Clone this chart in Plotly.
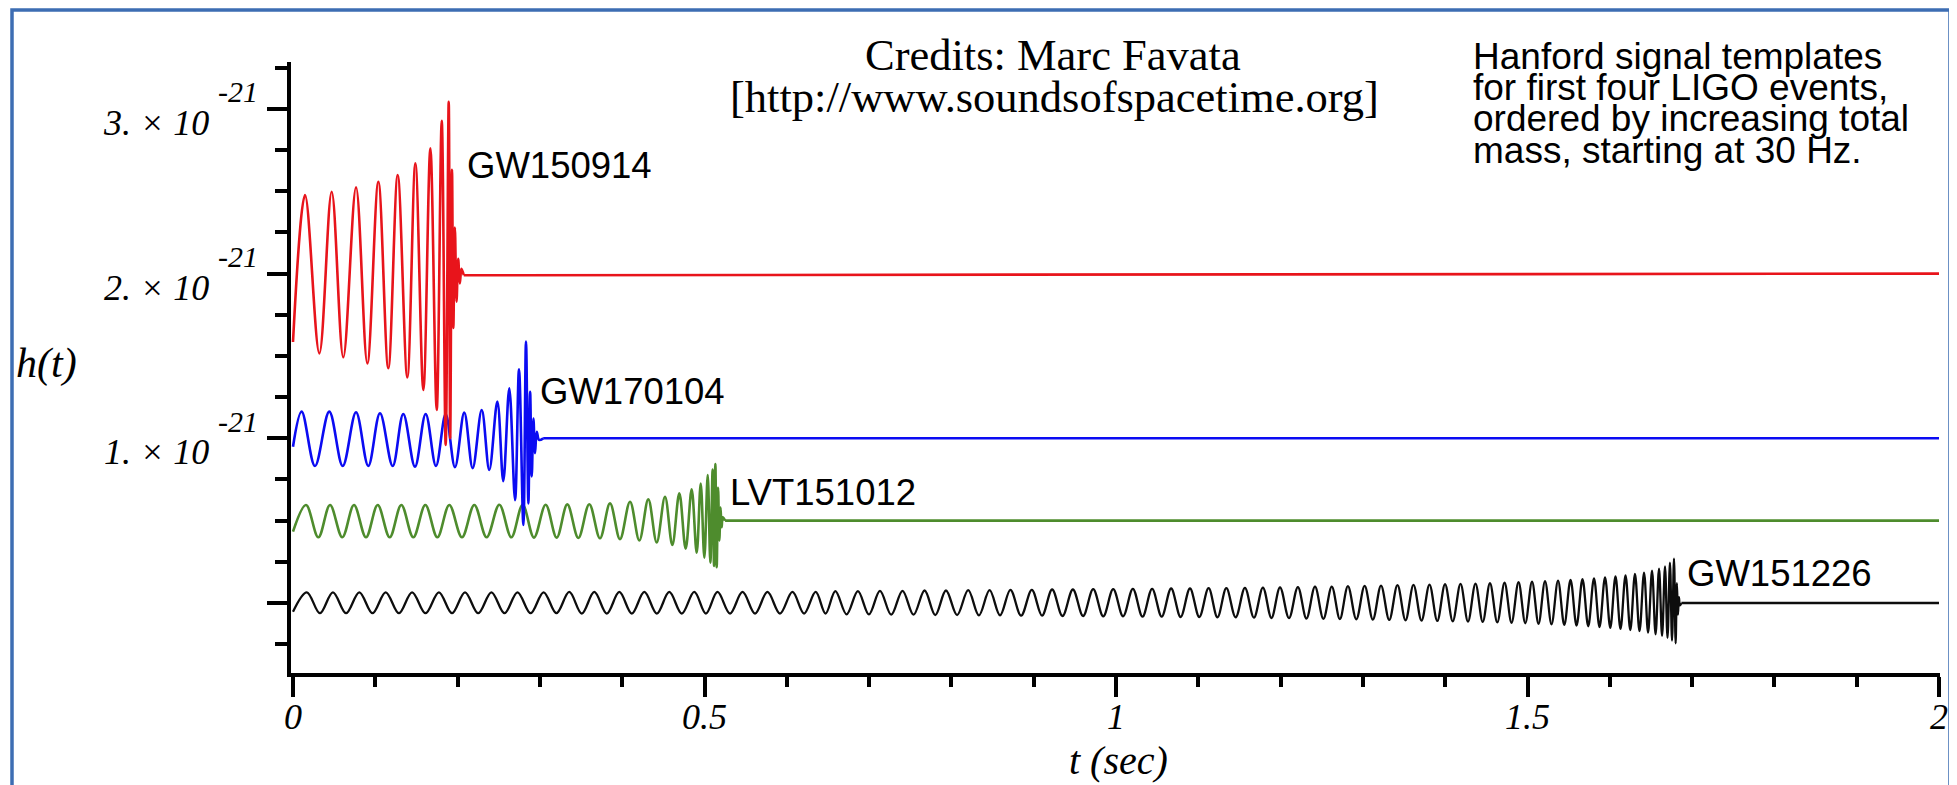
import plotly.graph_objects as go

# ---------------- data ----------------
event_names = ["GW150914", "GW170104", "LVT151012", "GW151226"]
event_offsets = [2.0, 1.0, 0.5, 0.0]            # baseline of each template (units of 1e-21)
event_colors = ["#e8141b", "#0b0bf2", "#4e8c2d", "#0d0d0d"]
event_widths = [2.6, 2.6, 2.6, 2.3]

# GW150914 (red): successive extrema, t [s], h [1e-21] relative to its baseline
gw150914_t = [0.0, 0.0146, 0.0320, 0.0470, 0.0611, 0.0766, 0.0903, 0.1037, 0.1158, 0.1272,
              0.1389, 0.1487, 0.1584, 0.1669, 0.1746, 0.1807, 0.1855, 0.1892, 0.1910, 0.1932,
              0.1948, 0.1967, 0.1987, 0.2007, 0.2027, 0.2047, 0.2075, 2.0]
gw150914_h = [-0.415, 0.477, -0.484, 0.497, -0.508, 0.524, -0.545, 0.558, -0.575, 0.599,
              -0.630, 0.670, -0.707, 0.761, -0.828, 0.928, -1.040, 1.044, -1.000, 0.630,
              -0.330, 0.280, -0.170, 0.090, -0.060, 0.030, -0.010, 0.0]

# GW170104 (blue)
gw170104_t = [0.0, 0.0105, 0.0267, 0.0441, 0.0604, 0.0766, 0.0915, 0.1057, 0.1211, 0.1340,
              0.1482, 0.1612, 0.1737, 0.1855, 0.1968, 0.2081, 0.2183, 0.2293, 0.2385, 0.2483,
              0.2555, 0.2628, 0.2698, 0.2746, 0.2799, 0.2831, 0.2860, 0.2881, 0.2901, 0.2921,
              0.2941, 0.2962, 0.2990, 0.3040, 2.0]
gw170104_h = [-0.051, 0.162, -0.168, 0.162, -0.168, 0.158, -0.168, 0.152, -0.168, 0.148,
              -0.172, 0.148, -0.168, 0.148, -0.175, 0.156, -0.181, 0.172, -0.192, 0.223,
              -0.260, 0.304, -0.375, 0.419, -0.526, 0.587, -0.395, 0.283, -0.231, 0.120,
              -0.090, 0.040, -0.010, 0.0, 0.0]

# LVT151012 (green)
lvt151012_t = [0.0, 0.0158, 0.0308, 0.0450, 0.0599, 0.0741, 0.0887, 0.1029, 0.1175, 0.1316,
               0.1462, 0.1608, 0.1754, 0.1899, 0.2053, 0.2203, 0.2353, 0.2507, 0.2653, 0.2791,
               0.2928, 0.3070, 0.3204, 0.3333, 0.3467, 0.3600, 0.3730, 0.3852, 0.3973, 0.4095,
               0.4208, 0.4317, 0.4419, 0.4520, 0.4609, 0.4694, 0.4771, 0.4844, 0.4905, 0.4954,
               0.4998, 0.5039, 0.5071, 0.5099, 0.5116, 0.5132, 0.5148, 0.5165, 0.5180, 0.5195,
               0.5208, 0.5222, 0.5250, 2.0]
lvt151012_h = [-0.067, 0.095, -0.101, 0.095, -0.101, 0.095, -0.101, 0.095, -0.101, 0.095,
               -0.101, 0.095, -0.101, 0.095, -0.101, 0.095, -0.101, 0.097, -0.101, 0.097,
               -0.103, 0.097, -0.103, 0.099, -0.105, 0.100, -0.107, 0.105, -0.112, 0.115,
               -0.120, 0.129, -0.132, 0.145, -0.148, 0.166, -0.170, 0.190, -0.195, 0.226,
               -0.225, 0.277, -0.255, 0.310, -0.275, 0.344, -0.283, 0.200, -0.120, 0.080,
               -0.040, 0.020, 0.0, 0.0]

# GW151226 (black): start, crests, troughs and ringdown
gw151226_start_t = [0.0]
gw151226_start_h = [-0.053]
gw151226_crest_t = [0.0168, 0.0485, 0.0806, 0.1126, 0.1447, 0.1773, 0.2090, 0.2411, 0.2728, 0.3045,
                    0.3357, 0.3661, 0.3965, 0.4269, 0.4572, 0.4876, 0.5158, 0.5462, 0.5765, 0.6069,
                    0.6351, 0.6590, 0.6864, 0.7132, 0.7406, 0.7674, 0.7934, 0.8204, 0.8464, 0.8717,
                    0.8977, 0.9224, 0.9476, 0.9723, 0.9966, 1.0205, 1.0439, 1.0670, 1.0899, 1.1125,
                    1.1341, 1.1567, 1.1785, 1.1993, 1.2210, 1.2418, 1.2622, 1.2818, 1.3021, 1.3220,
                    1.3420, 1.3615, 1.3809, 1.3998, 1.4186, 1.4368, 1.4544, 1.4721, 1.4891, 1.5055,
                    1.5213, 1.5371, 1.5523, 1.5668, 1.5808, 1.5942, 1.6069, 1.6191, 1.6306, 1.6416,
                    1.6513, 1.6598, 1.6671, 1.6731, 1.6780]
gw151226_crest_h = [0.065, 0.065, 0.065, 0.065, 0.065, 0.065, 0.065, 0.065, 0.065, 0.065,
                    0.067, 0.067, 0.067, 0.067, 0.067, 0.067, 0.067, 0.067, 0.067, 0.067,
                    0.067, 0.072, 0.072, 0.074, 0.074, 0.076, 0.076, 0.078, 0.078, 0.080,
                    0.080, 0.082, 0.082, 0.084, 0.084, 0.086, 0.086, 0.088, 0.088, 0.090,
                    0.090, 0.092, 0.094, 0.095, 0.097, 0.099, 0.100, 0.102, 0.104, 0.106,
                    0.108, 0.110, 0.112, 0.114, 0.116, 0.118, 0.120, 0.123, 0.126, 0.129,
                    0.132, 0.136, 0.140, 0.145, 0.150, 0.155, 0.161, 0.168, 0.176, 0.185,
                    0.196, 0.208, 0.222, 0.245, 0.270]
gw151226_trough_t = [0.0327, 0.0645, 0.0966, 0.1287, 0.1610, 0.1932, 0.2250, 0.2570, 0.2887, 0.3201,
                     0.3509, 0.3813, 0.4117, 0.4421, 0.4724, 0.5017, 0.5310, 0.5614, 0.5917, 0.6210,
                     0.6471, 0.6727, 0.6998, 0.7269, 0.7540, 0.7804, 0.8069, 0.8334, 0.8591, 0.8847,
                     0.9101, 0.9350, 0.9600, 0.9845, 1.0086, 1.0322, 1.0555, 1.0785, 1.1012, 1.1233,
                     1.1454, 1.1676, 1.1889, 1.2102, 1.2314, 1.2520, 1.2720, 1.2920, 1.3121, 1.3320,
                     1.3518, 1.3712, 1.3904, 1.4092, 1.4277, 1.4456, 1.4633, 1.4806, 1.4973, 1.5134,
                     1.5292, 1.5447, 1.5596, 1.5738, 1.5875, 1.6006, 1.6130, 1.6249, 1.6361, 1.6465,
                     1.6556, 1.6635, 1.6701, 1.6756, 1.6800]
gw151226_trough_h = [-0.062, -0.062, -0.062, -0.062, -0.062, -0.062, -0.062, -0.062, -0.062, -0.062,
                     -0.064, -0.064, -0.064, -0.064, -0.064, -0.064, -0.064, -0.064, -0.064, -0.064,
                     -0.064, -0.069, -0.069, -0.071, -0.071, -0.073, -0.073, -0.075, -0.075, -0.077,
                     -0.077, -0.079, -0.079, -0.081, -0.081, -0.083, -0.083, -0.085, -0.085, -0.087,
                     -0.087, -0.089, -0.091, -0.092, -0.094, -0.096, -0.097, -0.099, -0.101, -0.103,
                     -0.105, -0.107, -0.109, -0.111, -0.113, -0.115, -0.117, -0.120, -0.123, -0.126,
                     -0.129, -0.133, -0.137, -0.141, -0.146, -0.151, -0.157, -0.164, -0.171, -0.180,
                     -0.190, -0.200, -0.212, -0.228, -0.245]
gw151226_ring_t = [1.6815, 1.6828, 1.6840, 1.6852, 1.6870, 2.0]
gw151226_ring_h = [0.120, -0.070, 0.035, -0.015, 0.0, 0.0]

x_tick_vals = [0, 0.5, 1, 1.5, 2]
x_tick_text = ["0", "0.5", "1", "1.5", "2"]
y_tick_vals = [1, 2, 3]
y_tick_text = ["1. × 10", "2. × 10", "3. × 10"]
y_tick_exponent = "-21"

credits_lines = ["Credits: Marc Favata", "[http://www.soundsofspacetime.org]"]
note_lines = ["Hanford signal templates", "for first four LIGO events,",
              "ordered by increasing total", "mass, starting at 30 Hz."]

# ---------------- assemble series ----------------
bt, bh = list(gw151226_start_t), list(gw151226_start_h)
for ct, ch, tt, th in zip(gw151226_crest_t, gw151226_crest_h, gw151226_trough_t, gw151226_trough_h):
    bt += [ct, tt]
    bh += [ch, th]
bt += gw151226_ring_t
bh += gw151226_ring_h

series_t = [gw150914_t, gw170104_t, lvt151012_t, bt]
series_h = [gw150914_h, gw170104_h, lvt151012_h, bh]

# ---------------- layout geometry (screen pixels; page body has an 8px margin) ----------------
W, H = 1957, 785
BODY = 8
ML, MT = 291 - BODY, 62 - BODY
PW, PH = 1649, 611
MR = W - ML - PW
MB = H - MT - PH


def px(x):
    return (x - BODY - ML) / PW


def py(y):
    return (MT + PH - (y - BODY)) / PH


SERIF = "Liberation Serif, Times New Roman, serif"
SANS = "Liberation Sans, Arial, Helvetica, sans-serif"

fig = go.Figure()
# draw black first, red last (red on top)
for i in [3, 2, 1, 0]:
    off = event_offsets[i]
    t, h = series_t[i], series_h[i]
    yv = [v + off for v in h]
    # oscillating part (smooth)
    fig.add_trace(go.Scatter(
        x=t[:-1], y=yv[:-1], mode="lines",
        line=dict(color=event_colors[i], width=event_widths[i], shape="spline", smoothing=1.0),
        hoverinfo="skip", showlegend=False))
    # flat tail after the ringdown
    fig.add_trace(go.Scatter(
        x=t[-2:], y=yv[-2:], mode="lines",
        line=dict(color=event_colors[i], width=event_widths[i]),
        hoverinfo="skip", showlegend=False))

annotations = []
# y tick labels with exponent
for v, txt in zip(y_tick_vals, y_tick_text):
    annotations.append(dict(xref="paper", yref="y", x=px(211), y=v, yshift=-14,
                            text=f"<i>{txt}</i>", showarrow=False, xanchor="right", yanchor="middle",
                            font=dict(family=SERIF, size=36, color="black")))
    annotations.append(dict(xref="paper", yref="y", x=px(216), y=v, yshift=17,
                            text=f"<i>{y_tick_exponent}</i>", showarrow=False, xanchor="left",
                            yanchor="middle", font=dict(family=SERIF, size=30, color="black")))
# axis titles
annotations.append(dict(xref="paper", yref="paper", x=px(46), y=py(364), text="<i>h(t)</i>",
                        showarrow=False, xanchor="center", yanchor="middle",
                        font=dict(family=SERIF, size=42, color="black")))
annotations.append(dict(xref="paper", yref="paper", x=px(1118), y=py(760), text="<i>t (sec)</i>",
                        showarrow=False, xanchor="center", yanchor="middle",
                        font=dict(family=SERIF, size=40, color="black")))
# event labels
label_pos = [(465, 165), (538, 391), (728, 493), (1685, 573)]
for name, (lx, ly) in zip(event_names, label_pos):
    annotations.append(dict(xref="paper", yref="paper", x=px(lx), y=py(ly), text=name,
                            showarrow=False, xanchor="left", yanchor="middle",
                            font=dict(family=SANS, size=36.5, color="black")))
# credits
for line, (cx, cy) in zip(credits_lines, [(1053, 55), (1054, 97)]):
    annotations.append(dict(xref="paper", yref="paper", x=px(cx), y=py(cy), text=line,
                            showarrow=False, xanchor="center", yanchor="middle",
                            font=dict(family=SERIF, size=44.5, color="black")))
# note
for k, line in enumerate(note_lines):
    annotations.append(dict(xref="paper", yref="paper", x=px(1471), y=py(56.5 + 31.2 * k), text=line,
                            showarrow=False, xanchor="left", yanchor="middle",
                            font=dict(family=SANS, size=37, color="black")))

fig.update_layout(
    width=W, height=H, margin=dict(l=ML, r=MR, t=MT, b=MB),
    paper_bgcolor="white", plot_bgcolor="white",
    annotations=annotations,
    shapes=[dict(type="rect", xref="paper", yref="paper", x0=px(12), x1=px(1950),
                 y0=py(800), y1=py(10), line=dict(color="#3d6db3", width=3.5),
                 fillcolor="rgba(0,0,0,0)", layer="above")],
    xaxis=dict(range=[-2 / 823, 2 + 1 / 823], showgrid=False, zeroline=False,
               showline=True, linewidth=4, linecolor="black",
               ticks="outside", ticklen=20, tickwidth=3.5, tickcolor="black",
               tickmode="array", tickvals=x_tick_vals, ticktext=x_tick_text,
               ticklabelstandoff=-11,
               tickfont=dict(family=SERIF, size=36, color="black", style="italic"),
               minor=dict(tickmode="linear", tick0=0, dtick=0.1, ticks="outside", ticklen=10,
                          tickwidth=3.5, tickcolor="black", showgrid=False)),
    yaxis=dict(range=[-0.425, 3.285], showgrid=False, zeroline=False,
               showline=True, linewidth=4, linecolor="black",
               ticks="outside", ticklen=20, tickwidth=3.5, tickcolor="black",
               tickmode="linear", tick0=0, dtick=1, showticklabels=False,
               minor=dict(tickmode="linear", tick0=0, dtick=0.25, ticks="outside", ticklen=12,
                          tickwidth=3.5, tickcolor="black", showgrid=False)),
)

fig.write_html("out.html")
